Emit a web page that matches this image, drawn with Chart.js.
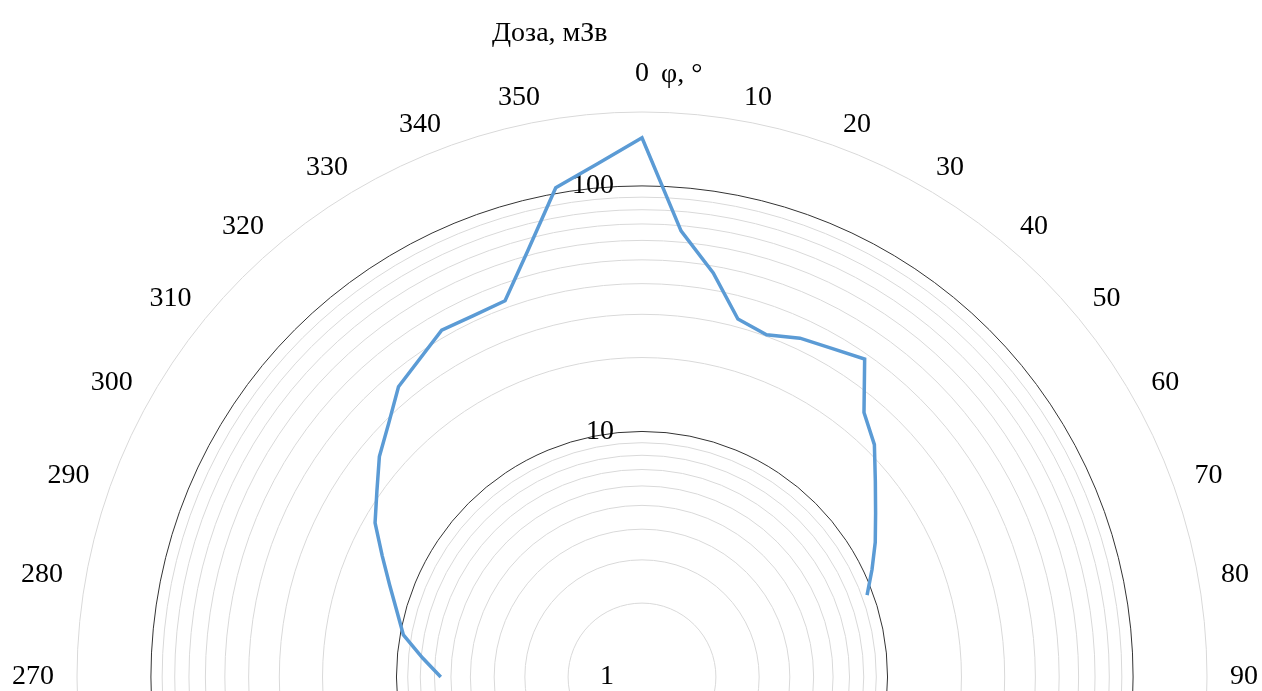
<!DOCTYPE html>
<html><head><meta charset="utf-8">
<script src="https://cdn.jsdelivr.net/npm/chart.js@4.4.1/dist/chart.umd.min.js"></script>
<style>
html,body{margin:0;padding:0;width:1262px;height:691px;overflow:hidden;background:#fff;}
#wrap{position:absolute;left:5px;top:-73px;width:1260px;height:1500px;}
.txt{position:absolute;font-family:'Liberation Serif','Times New Roman',serif;font-size:28px;line-height:28px;color:#000;white-space:nowrap;}
</style></head><body>
<div id="wrap"><canvas id="c" width="1260" height="1500"></canvas></div>
<div class="txt" style="left:492px;top:18px">Доза, мЗв</div>
<div class="txt" style="left:661px;top:59px">φ, °</div>
<script>
// Angle categories, degrees (φ, °)
const angleLabels = ['0','5','10','15','20','25','30','35','40','45','50','55','60','65','70','75','80','85',
  '90','95','100','105','110','115','120','125','130','135','140','145','150','155','160','165','170','175',
  '180','185','190','195','200','205','210','215','220','225','230','235','240','245','250','255','260','265',
  '270','275','280','285','290','295','300','305','310','315','320','325','330','335','340','345','350','355'];

// Dose, mSv (null = no measurement)
const doseValues = [157, 66.7, 46.9, 32.3, 30.4, 33.3, 35.1, 38.1, 25.5, 21.8, 17.4, 14.5, 12.5, 10.8, 9.45,
  null, null, null, null, null, null, null, null, null, null, null, null, null,
  null, null, null, null, null, null, null, null, null, null, null, null, null,
  null, null, null, null, null, null, null, null, null, null, null, null, null,
  6.6, 7.9, 9.7, 10.8, 12.4, 14.7, 18.0, 20.8, 24.9, 28.8, 34.9, 38, 42.8, 42.1, 42.7, 62.7, 105.5, 125];

// Logarithmic radial axis: grid circles, major circles, labelled ticks, max
const gridValues = [1,2,3,4,5,6,7,8,9,10,20,30,40,50,60,70,80,90,100,200];
const majorGridValues = [10, 100];
const tickLabelValues = [1, 10, 100];
const axisMax = 200;

const FONT = "'Liberation Serif', 'Times New Roman', serif";
const toLog = v => (v === null || v === undefined) ? null : Math.log10(v);
const fromLog = v => Math.round(Math.pow(10, v));

new Chart(document.getElementById('c'), {
  type: 'radar',
  data: {
    labels: angleLabels,
    datasets: [{
      data: doseValues.map(toLog),
      borderColor: '#5B9BD5',
      borderWidth: 3.5,
      pointRadius: 0,
      pointHoverRadius: 0,
      fill: false,
      spanGaps: false,
      tension: 0
    }]
  },
  options: {
    responsive: false,
    animation: false,
    events: [],
    plugins: { legend: { display: false }, tooltip: { enabled: false } },
    scales: {
      r: {
        min: 0,
        max: Math.log10(axisMax),
        beginAtZero: true,
        startAngle: 0,
        // leading placeholder tick (index 0 is never labelled by the radial scale)
        afterBuildTicks: s => { s.ticks = [{ value: 0 }].concat(gridValues.map(v => ({ value: Math.log10(v) }))); },
        ticks: {
          display: true,
          showLabelBackdrop: false,
          backdropPadding: { x: 0, y: -14 },
          color: '#000',
          font: { family: FONT, size: 28 },
          callback: (val, index) => {
            if (index === 0) return '';
            const v = fromLog(val);
            return tickLabelValues.includes(v) ? String(v) + ' '.repeat(2 * String(v).length + 8) : '';
          }
        },
        grid: {
          circular: true,
          lineWidth: 1,
          color: c => majorGridValues.includes(fromLog(c.tick.value)) ? '#333333' : '#d9d9d9'
        },
        angleLines: { display: false },
        pointLabels: {
          display: true,
          color: '#000',
          font: { family: FONT, size: 28, lineHeight: 0.01 },
          padding: c => c.index === 0 ? 38 : 23,
          callback: (label) => {
            const a = Number(label);
            return (a % 10 === 0 && (a >= 270 || a <= 90)) ? label : '';
          }
        }
      }
    }
  }
});
</script></body></html>
